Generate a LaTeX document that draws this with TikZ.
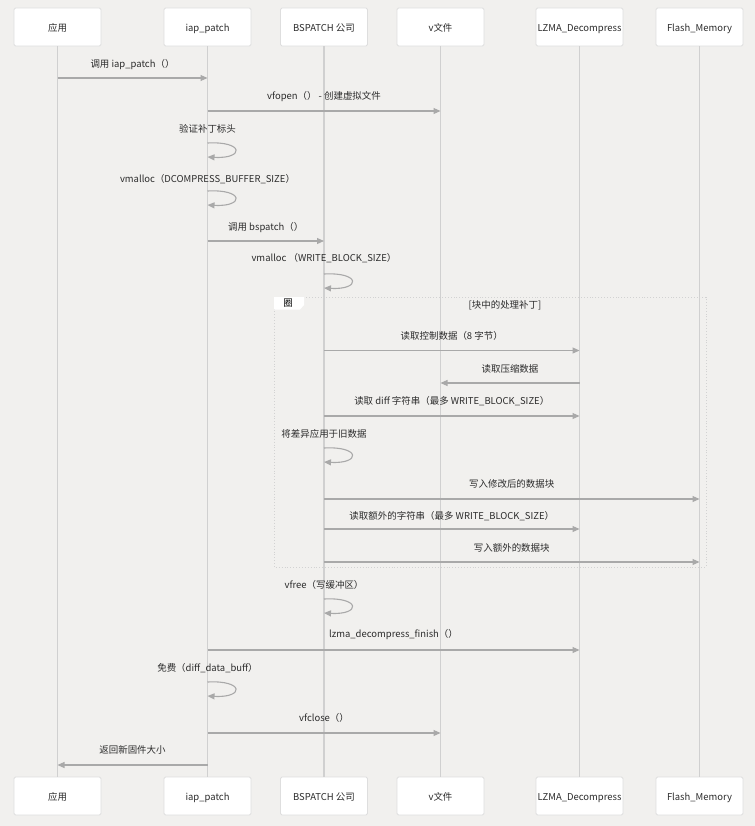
\documentclass[tikz,border=0pt]{standalone}
\usepackage{fontspec}
\setmainfont{Noto Sans CJK SC}
\usetikzlibrary{arrows.meta}
\definecolor{bg}{HTML}{F1F0EE}
\definecolor{lifec}{HTML}{D0D0D0}
\definecolor{msgc}{HTML}{A9A9A9}
\definecolor{txt}{HTML}{2B2B2B}
\definecolor{boxb}{HTML}{DEDEDE}
\definecolor{loopc}{HTML}{D2D2D2}
\def\xA{57.5}\def\xB{207.5}\def\xC{324}\def\xD{440.5}\def\xE{579.5}\def\xF{699.5}
\begin{document}
\begin{tikzpicture}[x=1bp,y=-1bp,
  actor/.style={draw=boxb,fill=white,line width=0.8bp,rounded corners=1.5bp,minimum width=87bp,minimum height=38bp,inner sep=0pt,text=txt,font=\fontsize{9.5}{11}\selectfont,text height=8.4bp,text depth=0bp},
  life/.style={draw=lifec,line width=1.4bp},
  msg/.style={draw=msgc,line width=1.1bp,-{Triangle[length=7bp,width=6bp]}},
  lbl/.style={text=txt,font=\fontsize{9.5}{11}\selectfont,inner sep=0pt,anchor=center,text height=7.4bp,text depth=0bp},
  loopbox/.style={draw=loopc,line width=0.9bp,dotted}]
\useasboundingbox (0,0) rectangle (755,826);
\fill[bg] (0,0) rectangle (755,826);
% actors
\node[actor] (ta) at (\xA,27) {应用};
\node[actor] (tb) at (\xB,27) {iap\_patch};
\node[actor] (tc) at (\xC,27) {BSPATCH 公司};
\node[actor] (td) at (\xD,27) {v文件};
\node[actor] (te) at (\xE,27) {LZMA\_Decompress};
\node[actor] (tf) at (\xF,27) {Flash\_Memory};
\node[actor] (ba) at (\xA,796) {应用};
\node[actor] (bb) at (\xB,796) {iap\_patch};
\node[actor] (bc) at (\xC,796) {BSPATCH 公司};
\node[actor] (bd) at (\xD,796) {v文件};
\node[actor] (be) at (\xE,796) {LZMA\_Decompress};
\node[actor] (bf) at (\xF,796) {Flash\_Memory};
\foreach \n in {a,b,c,d,e,f}{\draw[life] (t\n.south) -- (b\n.north);}
% loop frame
\draw[loopbox] (274,297) rectangle (706,567);
\fill[white] (274,297) -- (304,297) -- (304,305) -- (300,309.5) -- (274,309.5) -- cycle;
\node[lbl,text=black] (looptag) at (288,303) {圈};
\node[lbl] (loopcond) at (505,305) {[块中的处理补丁]};
% messages
\coordinate (m1a) at (\xA,78); \coordinate (m1b) at (\xB,78);
\draw[msg] (m1a) -- (m1b);
\node[lbl] (m1l) at ({(\xA+\xB)/2},64) {调用 iap\_patch（）};
\coordinate (m2a) at (\xB,111); \coordinate (m2b) at (\xD,111);
\draw[msg] (m2a) -- (m2b);
\node[lbl] (m2l) at ({(\xB+\xD)/2},96) {vfopen（） - 创建虚拟文件};
\coordinate (s1a) at (\xB,143); \coordinate (s1b) at (\xB,157);
\draw[msg] (s1a) .. controls +(37,-2) and +(37,2) .. (s1b);
\node[lbl] (s1l) at (\xB,129) {验证补丁标头};
\coordinate (s2a) at (\xB,191); \coordinate (s2b) at (\xB,205);
\draw[msg] (s2a) .. controls +(37,-2) and +(37,2) .. (s2b);
\node[lbl] (s2l) at (\xB,179) {vmalloc（DCOMPRESS\_BUFFER\_SIZE）};
\coordinate (m3a) at (\xB,241); \coordinate (m3b) at (\xC,241);
\draw[msg] (m3a) -- (m3b);
\node[lbl] (m3l) at ({(\xB+\xC)/2},227) {调用 bspatch（）};
\coordinate (s3a) at (\xC,274); \coordinate (s3b) at (\xC,288);
\draw[msg] (s3a) .. controls +(37,-2) and +(37,2) .. (s3b);
\node[lbl] (s3l) at (\xC,258) {vmalloc （WRITE\_BLOCK\_SIZE）};
\coordinate (m4a) at (\xC,350.5); \coordinate (m4b) at (\xE,350.5);
\draw[msg] (m4a) -- (m4b);
\node[lbl] (m4l) at ({(\xC+\xE)/2},336) {读取控制数据（8 字节）};
\coordinate (m5a) at (\xE,383); \coordinate (m5b) at (\xD,383);
\draw[msg] (m5a) -- (m5b);
\node[lbl] (m5l) at ({(\xD+\xE)/2},369) {读取压缩数据};
\coordinate (m6a) at (\xC,416); \coordinate (m6b) at (\xE,416);
\draw[msg] (m6a) -- (m6b);
\node[lbl] (m6l) at ({(\xC+\xE)/2},401) {读取 diff 字符串（最多 WRITE\_BLOCK\_SIZE）};
\coordinate (s4a) at (\xC,448); \coordinate (s4b) at (\xC,462);
\draw[msg] (s4a) .. controls +(37,-2) and +(37,2) .. (s4b);
\node[lbl] (s4l) at (\xC,434) {将差异应用于旧数据};
\coordinate (m7a) at (\xC,499); \coordinate (m7b) at (\xF,499);
\draw[msg] (m7a) -- (m7b);
\node[lbl] (m7l) at ({(\xC+\xF)/2},484) {写入修改后的数据块};
\coordinate (m8a) at (\xC,529); \coordinate (m8b) at (\xE,529);
\draw[msg] (m8a) -- (m8b);
\node[lbl] (m8l) at ({(\xC+\xE)/2},516) {读取额外的字符串（最多 WRITE\_BLOCK\_SIZE）};
\coordinate (m9a) at (\xC,562); \coordinate (m9b) at (\xF,562);
\draw[msg] (m9a) -- (m9b);
\node[lbl] (m9l) at ({(\xC+\xF)/2},548) {写入额外的数据块};
\coordinate (s5a) at (\xC,599); \coordinate (s5b) at (\xC,613);
\draw[msg] (s5a) .. controls +(37,-2) and +(37,2) .. (s5b);
\node[lbl] (s5l) at (\xC,585) {vfree（写缓冲区）};
\coordinate (m10a) at (\xB,650); \coordinate (m10b) at (\xE,650);
\draw[msg] (m10a) -- (m10b);
\node[lbl] (m10l) at ({(\xB+\xE)/2},634) {lzma\_decompress\_finish（）};
\coordinate (s6a) at (\xB,682); \coordinate (s6b) at (\xB,696);
\draw[msg] (s6a) .. controls +(37,-2) and +(37,2) .. (s6b);
\node[lbl] (s6l) at (\xB,668) {免费（diff\_data\_buff）};
\coordinate (m11a) at (\xB,733); \coordinate (m11b) at (\xD,733);
\draw[msg] (m11a) -- (m11b);
\node[lbl] (m11l) at ({(\xB+\xD)/2},718) {vfclose（）};
\coordinate (m12a) at (\xB,765); \coordinate (m12b) at (\xA,765);
\draw[msg] (m12a) -- (m12b);
\node[lbl] (m12l) at ({(\xA+\xB)/2},750) {返回新固件大小};
\end{tikzpicture}
\end{document}
